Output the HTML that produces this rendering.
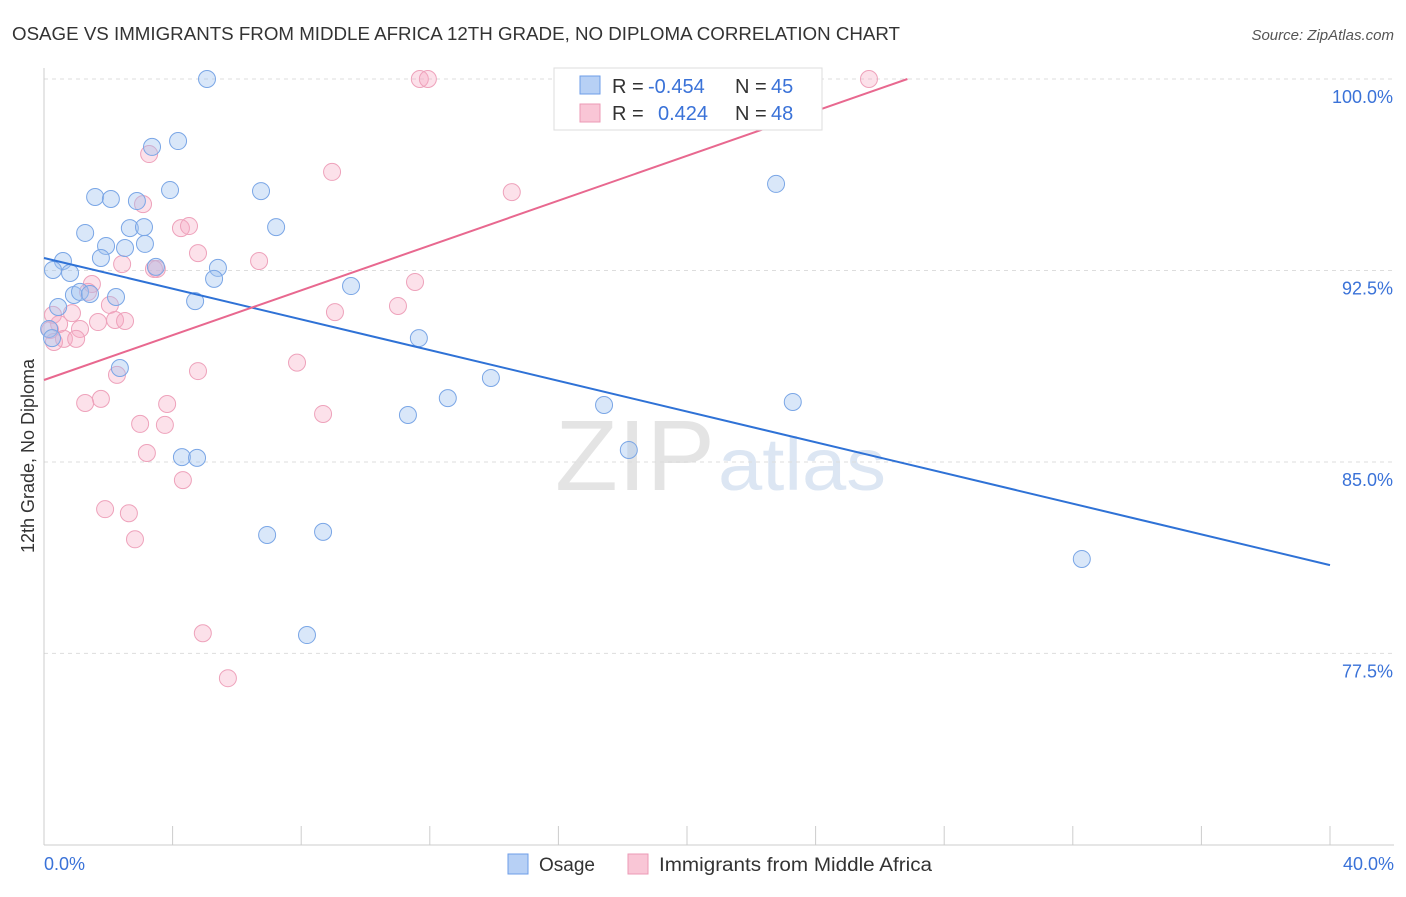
<!DOCTYPE html>
<html><head><meta charset="utf-8"><style>
body{margin:0;background:#fff;font-family:"Liberation Sans",sans-serif;}
svg text{font-family:"Liberation Sans",sans-serif;}
</style></head><body>
<svg id="chart" width="1406" height="892">
<text x="12" y="40" font-size="18" fill="#333" textLength="888" lengthAdjust="spacingAndGlyphs">OSAGE VS IMMIGRANTS FROM MIDDLE AFRICA 12TH GRADE, NO DIPLOMA CORRELATION CHART</text>
<text x="1394" y="40" font-size="15" fill="#555" text-anchor="end" font-style="italic">Source: ZipAtlas.com</text>
<text x="555" y="490" font-size="100" fill="#e4e4e4" textLength="160" lengthAdjust="spacingAndGlyphs" font-family="Liberation Serif">ZIP</text>
<text x="718" y="490" font-size="74" fill="#dce6f3" textLength="168" lengthAdjust="spacingAndGlyphs">atlas</text>
<g id="grid"></g>
<g id="axes"></g>
<g id="pts"></g>
<g id="lines"></g>
<text transform="translate(34,456) rotate(-90)" font-size="18" fill="#333" text-anchor="middle">12th Grade, No Diploma</text>
<text x="44" y="870" font-size="18" fill="#3a72d8">0.0%</text>
<text x="1394" y="870" font-size="18" fill="#3a72d8" text-anchor="end">40.0%</text>
<g>
<rect x="554" y="68" width="268" height="62" fill="#fff" stroke="#ddd"/>
<rect x="580" y="76" width="20" height="18" fill="#b7d0f5" stroke="#6d9ee8"/>
<rect x="580" y="104" width="20" height="18" fill="#f9c6d6" stroke="#ec9ab5"/>
<text x="612" y="93" font-size="20" fill="#333">R =</text>
<text x="648" y="93" font-size="20" fill="#3a72d8">-0.454</text>
<text x="735" y="93" font-size="20" fill="#333">N =</text>
<text x="771" y="93" font-size="20" fill="#3a72d8">45</text>
<text x="612" y="120" font-size="20" fill="#333">R =</text>
<text x="658" y="120" font-size="20" fill="#3a72d8">0.424</text>
<text x="735" y="120" font-size="20" fill="#333">N =</text>
<text x="771" y="120" font-size="20" fill="#3a72d8">48</text>
</g>
<g>
<rect x="508" y="854" width="20" height="20" fill="#b7d0f5" stroke="#6d9ee8"/>
<text x="539" y="871" font-size="19" fill="#333">Osage</text>
<rect x="628" y="854" width="20" height="20" fill="#f9c6d6" stroke="#ec9ab5"/>
<text x="659" y="871" font-size="19" fill="#333" textLength="273" lengthAdjust="spacingAndGlyphs">Immigrants from Middle Africa</text>
</g>
</svg>
<script>
const yTicks=[100,92.5,85,77.5];
const yTickLabels=["100.0%","92.5%","85.0%","77.5%"];
const osageX=[5.07,4.17,3.36,1.59,2.08,3.92,2.89,6.75,1.28,2.67,3.11,7.22,1.93,2.52,3.14,0.59,0.28,0.81,1.77,3.48,5.41,5.29,0.93,1.12,1.43,2.24,0.44,4.70,9.55,0.16,0.25,11.66,2.36,13.90,12.56,11.32,17.42,23.29,18.19,4.29,4.76,6.94,8.68,8.18,32.28,22.77];
const osageY=[100,97.57,97.34,95.38,95.30,95.65,95.22,95.61,93.97,94.16,94.20,94.20,93.46,93.38,93.54,92.87,92.52,92.40,92.99,92.64,92.60,92.17,91.54,91.66,91.58,91.46,91.07,91.30,91.89,90.21,89.85,89.85,88.68,88.29,87.50,86.84,87.23,87.35,85.47,85.19,85.16,82.14,82.26,78.22,81.20,95.89];
const immX=[11.69,11.94,25.66,3.27,8.96,14.55,3.08,4.26,4.51,4.79,2.43,6.69,3.51,3.42,11.54,1.49,1.37,0.87,2.05,0.28,0.47,11.01,9.05,1.68,2.21,2.52,1.12,0.19,0.62,1.00,0.31,7.87,4.79,2.27,1.77,1.28,3.83,2.99,3.76,8.68,3.20,4.32,1.90,2.64,2.83,4.94,5.72];
const immY=[100,100,100,97.06,96.36,95.57,95.10,94.16,94.24,93.18,92.75,92.87,92.56,92.56,92.05,91.97,91.66,90.83,91.15,90.76,90.40,91.11,90.87,90.48,90.56,90.52,90.21,90.17,89.82,89.82,89.70,88.89,88.56,88.41,87.47,87.31,87.27,86.49,86.45,86.88,85.35,84.29,83.15,82.99,81.97,78.29,76.53];
const osageTrend=[92.99,80.96];
const immTrend=[88.21,0.439];
const NS="http://www.w3.org/2000/svg";
const X=v=>44+v/40*1286;
const Y=v=>79+(100-v)*25.53;
function mk(tag,attrs,parent){const e=document.createElementNS(NS,tag);for(const k in attrs)e.setAttribute(k,attrs[k]);document.getElementById(parent).appendChild(e);return e;}
yTicks.forEach((t,i)=>{
 const l=mk('line',{x1:44,x2:1394,y1:Y(t),y2:Y(t),stroke:'#ddd','stroke-dasharray':'4,4'},'grid');
 
 
 const tx=mk('text',{x:1393,y:Y(t)+24,'font-size':18,fill:'#3a72d8','text-anchor':'end'},'grid');
 tx.textContent=yTickLabels[i];
 
 
});
let a=mk('line',{x1:44,x2:44,y1:68,y2:845,stroke:'#ccc'},'axes');


a=mk('line',{x1:44,x2:1394,y1:845,y2:845,stroke:'#ccc'},'axes');


for(let k=0;k<=10;k++){
 const t=mk('line',{x1:X(k*4),x2:X(k*4),y1:826,y2:845,stroke:'#ccc'},'axes');
 
 
}
immX.forEach((v,i)=>{
 const c=mk('circle',{cx:X(v),cy:Y(immY[i]),r:8.5,fill:'rgba(246,170,196,0.35)',stroke:'#eea2bb','stroke-width':1},'pts');
 
 
});
osageX.forEach((v,i)=>{
 const c=mk('circle',{cx:X(v),cy:Y(osageY[i]),r:8.5,fill:'rgba(160,195,240,0.4)',stroke:'#7aa6e6','stroke-width':1},'pts');
 
 
});
let t=mk('line',{x1:X(0),y1:Y(osageTrend[0]),x2:X(40),y2:Y(osageTrend[1]),stroke:'#2f72d6','stroke-width':2},'lines');


const xEnd=(100-immTrend[0])/immTrend[1];
t=mk('line',{x1:X(0),y1:Y(immTrend[0]),x2:X(xEnd),y2:Y(100),stroke:'#e8688f','stroke-width':2},'lines');


</script>
</body></html>
